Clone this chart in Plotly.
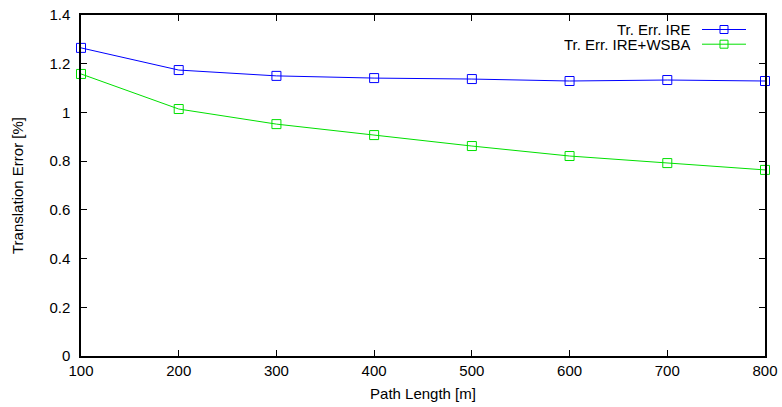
import plotly.graph_objects as go

path_length = [100, 200, 300, 400, 500, 600, 700, 800]
err_ire = [1.265, 1.174, 1.150, 1.141, 1.137, 1.129, 1.133, 1.129]
err_ire_wsba = [1.158, 1.014, 0.952, 0.907, 0.862, 0.821, 0.792, 0.764]
names = ["Tr. Err. IRE", "Tr. Err. IRE+WSBA"]
colors = ["#0000ff", "#00e000"]

W, H = 782, 407
ml, mr, mt, mb = 81, 17, 15, 51
FONT = "Liberation Sans, Arial, sans-serif"
FS = 15

fig = go.Figure()
for ys, name, c in zip([err_ire, err_ire_wsba], names, colors):
    fig.add_trace(go.Scatter(
        x=path_length, y=ys, name=name, mode="lines+markers",
        line=dict(color=c, width=1),
        marker=dict(symbol="square-open", size=9, color=c, line=dict(width=1, color=c)),
        cliponaxis=False, showlegend=False))

# custom gnuplot-style legend (text left, sample right); coords in page pixels
pw, ph = W - ml - mr, H - mt - mb
def px(x):
    return (x - ml) / pw
def py(y):
    return (H - mb - y) / ph
for i, (name, c) in enumerate(zip(names, colors)):
    yy = 29.5 + 14.7 * i
    fig.add_annotation(x=px(693), y=py(yy), xref="paper", yref="paper", text=name,
                       showarrow=False, xanchor="right", yanchor="middle", height=13,
                       font=dict(size=FS, color="#000000", family=FONT))
    fig.add_shape(type="line", xref="paper", yref="paper", x0=px(702), x1=px(746),
                  y0=py(yy), y1=py(yy), line=dict(color=c, width=1))
    fig.add_shape(type="rect", xref="paper", yref="paper", x0=px(720), x1=px(728),
                  y0=py(yy - 4), y1=py(yy + 4), line=dict(color=c, width=1))

axis_common = dict(showline=True, linecolor="#000000", linewidth=1.5, mirror="ticks",
                   ticks="inside", ticklen=6, tickcolor="#000000", tickwidth=1,
                   showgrid=False, zeroline=False, automargin=False,
                   ticklabeloverflow="allow",
                   tickfont=dict(size=FS, color="#000000"))
fig.update_xaxes(range=[100, 800], tickvals=path_length,
                 title=dict(text="Path Length [m]", standoff=11, font=dict(size=FS, color="#000000")),
                 **axis_common)
fig.update_yaxes(range=[0, 1.4], tickvals=[0, 0.2, 0.4, 0.6, 0.8, 1, 1.2, 1.4],
                 ticktext=["0", "0.2", "0.4", "0.6", "0.8", "1", "1.2", "1.4"],
                 ticklabelstandoff=6,
                 title=dict(text="Translation Error [%]", standoff=22, font=dict(size=FS, color="#000000")),
                 **axis_common)
fig.update_layout(width=W, height=H, margin=dict(l=ml, r=mr, t=mt, b=mb, autoexpand=False),
                  paper_bgcolor="white", plot_bgcolor="white",
                  font=dict(family=FONT, size=FS, color="#000000"))
fig.write_html("out.html", config={"displayModeBar": False},
               post_script="document.body.style.margin='0';document.body.style.overflow='hidden';")
